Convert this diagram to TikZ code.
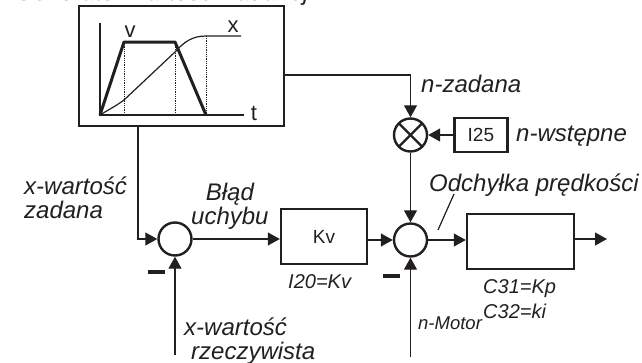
\documentclass[tikz,border=0pt]{standalone}
\usepackage{fontspec}
\setmainfont{Liberation Sans}
\usetikzlibrary{arrows.meta, positioning, calc}
\definecolor{grafit}{HTML}{231F20}
\colorlet{colLinia}{grafit}
\colorlet{colTekst}{grafit}
\tikzset{
  blok/.style={draw=colLinia, line width=2.4pt, inner sep=0pt},
  wezel/.style={circle, draw=colLinia, line width=2.4pt, minimum size=33pt, inner sep=0pt},
  mnoznikKrzyz/.style={wezel, path picture={
      \draw[colLinia, line width=2.4pt] (path picture bounding box.south west) -- (path picture bounding box.north east);
      \draw[colLinia, line width=2.4pt] (path picture bounding box.north west) -- (path picture bounding box.south east);}},
  linia/.style={draw=colLinia, line width=1.2pt},
  flecha/.style={linia, -{Triangle[length=12pt, width=13pt]}},
  opis/.style={anchor=base west, inner sep=0pt, text=colTekst, align=left, font=\fontsize{24}{23.5}\selectfont\itshape},
  opisMaly/.style={opis, font=\fontsize{20}{25}\selectfont\itshape},
  parametr/.style={inner sep=0pt, text=colTekst, font=\fontsize{19}{24}\selectfont},
  wykres/.style={inner sep=0pt, text=colTekst, font=\fontsize{22}{24}\selectfont},
  znakMinus/.style={draw=colLinia, line width=3.2pt},
}
\begin{document}
\begin{tikzpicture}[x=1pt, y=-1pt]
    \useasboundingbox (0,0) rectangle (642,362);

    % bloki
    \node[blok, minimum width=205pt, minimum height=120pt] (generator) at (181.5,66) {};
    \node[mnoznikKrzyz] (mnoznik) at (410.5,135) {};
    \node[blok, minimum width=53pt, minimum height=34pt, right=25pt of mnoznik] (i25) {};
    \node[parametr] at (i25) {I25};
    \node[wezel] (suma1) at (175,239) {};
    \node[wezel] (suma2) at (410.5,240) {};
    \node[blok, minimum width=86pt, minimum height=55pt, parametr] (kv) at (324,236.5) {Kv};
    \node[blok, minimum width=107pt, minimum height=55pt] (regulator) at (520.5,241.5) {};

    % wolne konce
    \coordinate (zadanaX) at (138,239);
    \coordinate (zadanaN) at (410.5,75);
    \coordinate (wyjscie) at (607,239);
    \coordinate (rzeczywista) at (175,355);
    \coordinate (motor) at (410.5,357);
    \coordinate (odchA) at (454,194);
    \coordinate (odchB) at (438,230);

    % polaczenia
    \draw[flecha] (generator.south -| zadanaX) -- (zadanaX) -- (suma1);
    \draw[flecha] (generator.east |- zadanaN) -- (zadanaN) -- (mnoznik);
    \draw[flecha] (i25) -- (mnoznik);
    \draw[flecha] (mnoznik) -- (suma2);
    \draw[flecha] (suma1) -- (suma1 -| kv.west);
    \draw[flecha] (suma2 -| kv.east) -- (suma2);
    \draw[flecha] (suma2) -- (suma2 -| regulator.west);
    \draw[flecha] (wyjscie -| regulator.east) -- (wyjscie);
    \draw[flecha] (rzeczywista) -- (suma1);
    \draw[flecha] (motor) -- (suma2);
    \draw[linia] (odchA) -- (odchB);

    % znaki
    \coordinate (minus1a) at (148,272);
    \coordinate (minus1b) at (165,272);
    \coordinate (minus2a) at (383,276);
    \coordinate (minus2b) at (400,276);
    \draw[znakMinus] (minus1a) -- (minus1b);
    \draw[znakMinus] (minus2a) -- (minus2b);

    % wykres w generatorze
    \coordinate (o) at (100,115);
    \coordinate (osY) at (100,23);
    \coordinate (osT) at (244,115);
    \draw[linia] (osY) -- (o) -- (osT);
    \draw[colLinia, line width=0.8pt, densely dotted] (124,42) -- (124,115);
    \draw[colLinia, line width=0.8pt, densely dotted] (175,42) -- (175,115);
    \draw[colLinia, line width=0.8pt, densely dotted] (206,36) -- (206,115);
    \draw[linia] (o) .. controls (108,110) and (116,106) .. (124,100) -- (175,52) .. controls (184,42) and (192,36) .. (206,36) -- (241,36);
    \draw[colLinia, line width=3pt, line join=round] (o) -- (124,42) -- (175,42) -- (206,115);
    \node[wykres] (lblV) at (130,32) {v};
    \node[wykres] (lblX) at (233,27) {x};
    \node[wykres] (lblT) at (254,113) {t};

    % opisy
    \node[opis] (tytul) at (15,0) {Generator wartości zadanej};
    \node[opis] (nzadana) at (421,92) {n-zadana};
    \node[opis] (nwstepne) at (516,141) {n-wstępne};
    \node[opis] (odchylka) at (429,191) {Odchyłka prędkości};
    \node[opis] (xzadana) at (24,218) {x-wartość\\zadana};
    \node[opis, align=center] (blad) at (191,224) {Błąd\\uchybu};
    \node[opis] (xrzecz) at (184,359) {x-wartość\\\hspace*{7pt}rzeczywista};
    \node[opisMaly] (i20) at (288,288) {I20=Kv};
    \node[opisMaly] (c3132) at (483,318) {C31=Kp\\C32=ki};
    \node[opisMaly, font=\fontsize{18.5}{20}\selectfont\itshape] (nmotor) at (418,329) {n-Motor};
\end{tikzpicture}
\end{document}
